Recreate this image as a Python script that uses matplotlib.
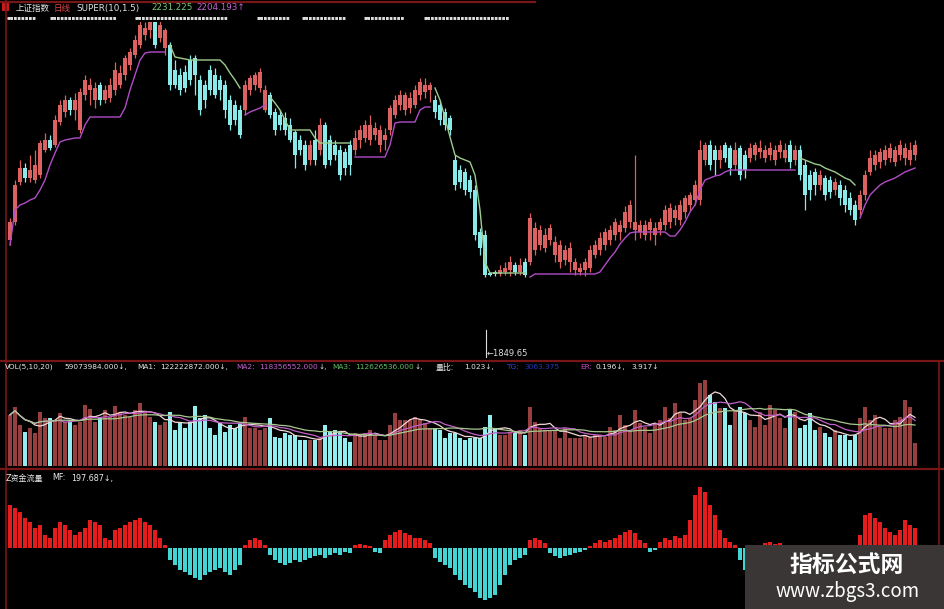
import numpy as np
import pandas as pd
import matplotlib
matplotlib.use('Agg')
import matplotlib.pyplot as plt
from matplotlib.lines import Line2D
from matplotlib.patches import Rectangle
from matplotlib.transforms import blended_transform_factory

plt.rcParams['font.family'] = ['DejaVu Sans', 'Noto Sans CJK SC']

W, H = 945, 609

# daily candles (index points)
opens = [
    2020, 2056, 2136, 2164, 2144, 2140, 2150, 2200, 2220, 2210,
    2256, 2276, 2300, 2280, 2240, 2310, 2320, 2300, 2330, 2300,
    2304, 2320, 2330, 2350, 2370, 2390, 2410, 2430, 2440, 2456,
    2424, 2404, 2410, 2360, 2350, 2356, 2380, 2384, 2340, 2330,
    2360, 2350, 2340, 2330, 2300, 2290, 2280, 2280, 2320, 2330,
    2324, 2280, 2310, 2276, 2270, 2264, 2250, 2236, 2220, 2210,
    2180, 2220, 2200, 2250, 2220, 2210, 2200, 2196, 2210, 2200,
    2220, 2224, 2220, 2230, 2210, 2220, 2240, 2270, 2290, 2280,
    2284, 2290, 2310, 2316, 2320, 2300, 2290, 2276, 2264, 2180,
    2160, 2156, 2140, 2120, 2036, 2030, 1954, 1956, 1952, 1956,
    1960, 1970, 1956, 1976, 1976, 2000, 2010, 2004, 2020, 1990,
    1976, 1980, 1976, 1960, 1956, 1960, 1964, 1990, 2000, 2010,
    2020, 2030, 2036, 2044, 2056, 2040, 2036, 2030, 2040, 2030,
    2040, 2050, 2056, 2064, 2060, 2076, 2090, 2100, 2100, 2180,
    2210, 2200, 2180, 2210, 2204, 2170, 2204, 2190, 2184, 2190,
    2196, 2184, 2190, 2180, 2196, 2184, 2210, 2180, 2200, 2170,
    2150, 2156, 2130, 2144, 2140, 2120, 2130, 2120, 2104, 2090,
    2080, 2110, 2156, 2170, 2176, 2180, 2184, 2176, 2190, 2184,
    2180, 2190,
]
closes = [
    2056, 2130, 2164, 2144, 2160, 2170, 2214, 2220, 2204, 2260,
    2290, 2300, 2280, 2300, 2316, 2340, 2330, 2324, 2300, 2320,
    2330, 2360, 2354, 2384, 2396, 2420, 2450, 2444, 2460, 2410,
    2450, 2440, 2330, 2330, 2320, 2324, 2340, 2350, 2280, 2300,
    2320, 2310, 2320, 2280, 2250, 2260, 2230, 2330, 2344, 2350,
    2356, 2320, 2270, 2240, 2250, 2240, 2220, 2190, 2200, 2170,
    2210, 2180, 2250, 2170, 2180, 2190, 2150, 2164, 2170, 2224,
    2240, 2250, 2250, 2244, 2240, 2230, 2284, 2300, 2310, 2310,
    2304, 2320, 2336, 2330, 2330, 2276, 2260, 2250, 2240, 2130,
    2136, 2120, 2116, 2030, 2004, 1950, 1950, 1952, 1960, 1964,
    1976, 1956, 1970, 1950, 2064, 2044, 2040, 2030, 2044, 2016,
    2010, 2000, 2004, 1976, 1964, 1976, 2000, 2010, 2024, 2036,
    2040, 2056, 2050, 2076, 2090, 2056, 2050, 2050, 2056, 2044,
    2056, 2080, 2084, 2080, 2090, 2104, 2110, 2130, 2200, 2210,
    2170, 2180, 2200, 2184, 2164, 2200, 2150, 2160, 2204, 2210,
    2204, 2200, 2204, 2200, 2210, 2200, 2176, 2200, 2150, 2110,
    2120, 2130, 2150, 2110, 2116, 2136, 2104, 2090, 2080, 2060,
    2110, 2150, 2184, 2190, 2196, 2200, 2204, 2200, 2210, 2204,
    2200, 2210,
]
highs = [
    2064, 2140, 2180, 2174, 2190, 2200, 2220, 2234, 2230, 2270,
    2300, 2310, 2306, 2314, 2324, 2350, 2344, 2336, 2336, 2330,
    2344, 2376, 2370, 2390, 2404, 2430, 2460, 2456, 2464, 2460,
    2460, 2444, 2416, 2380, 2364, 2370, 2390, 2390, 2350, 2340,
    2370, 2364, 2350, 2340, 2310, 2300, 2290, 2340, 2350, 2356,
    2364, 2330, 2316, 2284, 2280, 2276, 2264, 2240, 2230, 2220,
    2220, 2240, 2264, 2256, 2230, 2220, 2210, 2204, 2220, 2240,
    2250, 2260, 2270, 2256, 2250, 2244, 2290, 2310, 2320, 2316,
    2316, 2330, 2344, 2344, 2336, 2310, 2300, 2284, 2270, 2190,
    2170, 2164, 2150, 2130, 2044, 2040, 1956, 1960, 1970, 1976,
    1988, 1976, 1984, 1984, 2074, 2056, 2050, 2044, 2052, 2028,
    2020, 2010, 2016, 1984, 1974, 1984, 2010, 2020, 2036, 2044,
    2050, 2064, 2060, 2088, 2100, 2190, 2060, 2060, 2064, 2056,
    2064, 2090, 2094, 2090, 2100, 2110, 2116, 2140, 2220, 2216,
    2220, 2210, 2210, 2216, 2210, 2216, 2210, 2200, 2214, 2216,
    2220, 2210, 2216, 2210, 2220, 2214, 2220, 2210, 2210, 2180,
    2160, 2164, 2160, 2150, 2148, 2144, 2140, 2130, 2116, 2100,
    2120, 2160, 2200, 2200, 2204, 2210, 2214, 2208, 2220, 2214,
    2216, 2220,
]
lows = [
    2010, 2050, 2130, 2136, 2136, 2134, 2144, 2196, 2200, 2206,
    2250, 2266, 2270, 2260, 2234, 2300, 2290, 2284, 2290, 2294,
    2296, 2310, 2324, 2340, 2360, 2384, 2404, 2420, 2424, 2404,
    2416, 2390, 2320, 2324, 2310, 2316, 2330, 2310, 2270, 2284,
    2310, 2304, 2300, 2264, 2240, 2250, 2224, 2270, 2310, 2320,
    2316, 2276, 2264, 2230, 2240, 2230, 2216, 2164, 2190, 2160,
    2170, 2170, 2190, 2164, 2170, 2180, 2140, 2150, 2150, 2190,
    2204, 2216, 2210, 2220, 2196, 2200, 2230, 2264, 2280, 2270,
    2274, 2284, 2300, 2304, 2296, 2264, 2250, 2240, 2230, 2120,
    2124, 2110, 2104, 2020, 1990, 1946, 1948, 1948, 1948, 1950,
    1948, 1950, 1950, 1946, 1970, 1990, 2000, 1996, 2010, 1976,
    1964, 1970, 1956, 1950, 1950, 1948, 1956, 1984, 1990, 2000,
    2010, 2020, 2020, 2036, 2044, 2020, 2024, 2020, 2020, 2010,
    2030, 2040, 2044, 2050, 2050, 2064, 2080, 2090, 2090, 2170,
    2160, 2150, 2164, 2176, 2150, 2160, 2140, 2144, 2176, 2180,
    2184, 2176, 2180, 2170, 2184, 2176, 2164, 2170, 2140, 2080,
    2100, 2110, 2120, 2100, 2104, 2110, 2090, 2076, 2070, 2050,
    2070, 2100, 2150, 2160, 2164, 2170, 2176, 2168, 2180, 2170,
    2170, 2180,
]

# SUPER(10,1.5) stop line and where each trend leg starts
super_line = [
    2010, 2080, 2090, 2094, 2100, 2104, 2120, 2140, 2170, 2194,
    2216, 2220, 2222, 2224, 2224, 2250, 2266, 2266, 2266, 2266,
    2266, 2266, 2266, 2284, 2320, 2350, 2380, 2394, 2396, 2396,
    2396, 2396, 2410, 2386, 2384, 2382, 2380, 2380, 2380, 2380,
    2380, 2380, 2380, 2370, 2354, 2340, 2324, 2270, 2276, 2280,
    2284, 2290, 2306, 2294, 2280, 2260, 2240, 2240, 2240, 2240,
    2240, 2224, 2214, 2214, 2214, 2214, 2214, 2214, 2214, 2186,
    2186, 2186, 2186, 2186, 2186, 2186, 2210, 2254, 2256, 2256,
    2256, 2256, 2280, 2286, 2286, 2324, 2300, 2264, 2226, 2190,
    2184, 2180, 2176, 2150, 2080, 1976, 1954, 1954, 1954, 1954,
    1954, 1954, 1954, 1954, 1946, 1952, 1952, 1952, 1952, 1952,
    1952, 1952, 1952, 1952, 1952, 1952, 1952, 1952, 1956, 1970,
    1984, 1996, 2012, 2024, 2034, 2036, 2036, 2036, 2036, 2036,
    2036, 2036, 2028, 2028, 2040, 2056, 2076, 2090, 2120, 2140,
    2144, 2148, 2150, 2156, 2160, 2160, 2160, 2160, 2160, 2160,
    2160, 2160, 2160, 2160, 2160, 2160, 2160, 2160, 2184, 2180,
    2176, 2172, 2170, 2164, 2160, 2156, 2150, 2144, 2140, 2130,
    2064, 2090, 2110, 2120, 2130, 2136, 2140, 2144, 2150, 2156,
    2160, 2164,
]
trend_start = [0, 32, 47, 52, 69, 85, 104, 158, 170]
trend_up = [1, 0, 1, 0, 1, 0, 1, 0, 1]

# volume, 1e8 shares
volume = [
    1.28, 1.48, 1.02, 0.85, 0.95, 0.82, 1.35, 1.20, 1.20, 1.15,
    1.32, 1.10, 1.15, 1.02, 1.10, 1.52, 1.42, 1.10, 1.22, 1.40,
    1.22, 1.50, 1.35, 1.28, 1.22, 1.40, 1.58, 1.35, 1.22, 1.10,
    1.02, 1.10, 1.35, 0.90, 1.08, 0.95, 1.10, 1.50, 1.20, 1.28,
    0.95, 0.78, 1.08, 0.85, 1.02, 0.95, 1.08, 1.22, 0.95, 0.95,
    0.90, 0.95, 1.20, 0.72, 0.70, 0.82, 0.78, 0.78, 0.65, 0.65,
    0.65, 0.65, 0.70, 1.02, 0.85, 0.90, 0.85, 0.70, 0.60, 0.82,
    0.78, 0.82, 0.90, 0.78, 0.65, 0.65, 1.02, 1.32, 1.15, 1.15,
    1.15, 1.22, 1.15, 1.08, 0.95, 0.95, 0.90, 0.70, 0.82, 0.82,
    0.70, 0.65, 0.70, 0.70, 0.70, 0.98, 1.28, 0.95, 0.78, 0.78,
    0.85, 0.82, 0.90, 0.78, 1.48, 1.10, 0.95, 0.90, 0.90, 0.90,
    0.70, 0.95, 0.70, 0.70, 0.70, 0.78, 0.72, 0.78, 0.78, 0.72,
    0.98, 0.90, 1.28, 1.02, 0.90, 1.40, 1.08, 0.98, 0.82, 1.08,
    1.15, 1.48, 1.20, 1.58, 1.32, 1.15, 1.20, 1.65, 2.08, 2.15,
    1.78, 1.60, 1.45, 1.45, 1.02, 1.40, 1.48, 1.32, 1.15, 0.98,
    1.35, 1.02, 1.52, 1.40, 1.20, 0.95, 1.40, 1.35, 0.95, 1.02,
    1.32, 0.90, 0.98, 0.82, 0.72, 0.90, 0.78, 0.78, 0.65, 0.78,
    1.20, 1.48, 1.15, 1.28, 0.98, 0.95, 0.95, 1.15, 1.22, 1.65,
    1.48, 0.58,
]

# Z资金流量 MF
money_flow = [
    430, 400, 360, 300, 260, 200, 230, 130, 100, 200,
    260, 230, 180, 130, 160, 200, 280, 260, 230, 100,
    80, 180, 200, 230, 260, 280, 300, 260, 230, 180,
    100, 30, -120, -170, -220, -240, -270, -300, -320, -270,
    -240, -220, -200, -240, -270, -220, -170, 30, 80, 100,
    80, 30, -70, -120, -150, -170, -150, -120, -140, -120,
    -100, -80, -70, -100, -70, -50, -70, -40, -50, 30,
    40, 30, 20, -40, -50, 80, 130, 160, 180, 150,
    130, 100, 100, 80, 50, -100, -140, -170, -200, -270,
    -320, -370, -400, -440, -500, -520, -500, -470, -370, -270,
    -170, -120, -100, -70, 80, 100, 80, 50, -50, -80,
    -100, -80, -70, -50, -40, -20, 20, 50, 80, 60,
    80, 100, 130, 160, 180, 150, 80, 50, -40, -20,
    60, 100, 80, 120, 100, 130, 280, 530, 610, 560,
    430, 330, 180, 100, 60, 30, -120, -220, -150, -80,
    30, 50, 60, 40, 50, 30, -60, -40, -100, -150,
    -160, -180, -150, -170, -200, -180, -200, -220, -240, -250,
    130, 330, 350, 300, 260, 200, 160, 130, 180, 280,
    230, 200,
]

low_label = '1849.65'

UP = '#dc6262'
DN = '#8aeaea'
VUP = '#973e3e'
VDN = '#92eeee'
MFUP = '#e41c1c'
MFDN = '#45d4d4'
PURPLE = '#b24cc6'
GREEN = '#9ccc8e'
FRAME = '#761616'

o = np.array(opens, float)
c = np.array(closes, float)
hi = np.maximum(np.array(highs, float), np.maximum(o, c))
lo = np.minimum(np.array(lows, float), np.minimum(o, c))
n = len(c)
xs = np.arange(n)
up = c >= o

fig = plt.figure(figsize=(W / 100, H / 100), dpi=100, facecolor='black')


def box(x0, y0, x1, y1):
    return [x0 / W, 1 - y1 / H, (x1 - x0) / W, (y1 - y0) / H]


ax = fig.add_axes(box(7, 22, 922, 360))
axv = fig.add_axes(box(7, 362, 922, 467))
axm = fig.add_axes(box(7, 470, 922, 609))
for a in (ax, axv, axm):
    a.set_facecolor('black')
    a.set_axis_off()
    a.set_xlim(-0.6, 182.4)

# price panel
col = np.where(up, UP, DN)
ax.vlines(xs, lo, hi, colors=col, lw=0.9)
ax.bar(xs, np.maximum(np.abs(c - o), 2), bottom=np.minimum(o, c),
       width=0.62, color=col, lw=0)
bounds = trend_start + [n]
sl = np.array(super_line, float)
for k in range(len(trend_start)):
    s, e = bounds[k], bounds[k + 1]
    ax.plot(xs[s:e], sl[s:e], color=PURPLE if trend_up[k] else GREEN, lw=1.0)
ax.set_ylim(1780, 2456)

imin = int(np.argmin(lo))
tr = blended_transform_factory(ax.transData, ax.transAxes)
ax.plot([imin + 0.3, imin + 0.3], [0.09, 0.01], color='#dddddd', lw=0.8, transform=tr)
ax.text(imin + 0.3, 0.018, '\u2190' + low_label, transform=tr, color='#dddddd',
        fontsize=6, va='center', ha='left')

# volume panel
vol = np.array(volume)
axv.bar(xs, vol, width=0.7, color=np.where(up, VUP, VDN), lw=0)
vs = pd.Series(vol)
axv.plot(xs, vs.rolling(5, min_periods=1).mean(), color='#f0d8d8', lw=0.9)
axv.plot(xs, vs.rolling(10, min_periods=1).mean(), color='#c060c8', lw=0.9)
axv.plot(xs, vs.rolling(20, min_periods=1).mean(), color='#a8c890', lw=0.9)
axv.set_ylim(-0.025, 2.6)

# money flow panel
mf = np.array(money_flow, float)
axm.bar(xs, mf, width=0.88, color=np.where(mf > 0, MFUP, MFDN), lw=0)
axm.set_ylim(-610, 780)


# frame lines
def fline(x0, y0, x1, y1, lw=1.5, color=FRAME):
    fig.add_artist(Line2D([x0 / W, x1 / W], [1 - y0 / H, 1 - y1 / H],
                          transform=fig.transFigure, color=color, lw=lw))


fline(0, 1.5, 535, 1.5, lw=1.6)
fline(0, 361, W, 361, lw=1.6)
fline(0, 468.5, W, 468.5, lw=1.6)
fline(6, 0, 6, H, lw=1.2)
fline(939, 361, 939, H, lw=1.2)


# header texts
def label(x, y, s, color, size=6.3, **kw):
    fig.text(x / W, 1 - y / H, s, color=color, fontsize=size,
             va='center', ha='left', **kw)


fig.add_artist(Rectangle((2 / W, 1 - 11 / H), 7 / W, 8 / H,
                         transform=fig.transFigure, facecolor='#c81c1c', edgecolor='none'))
label(16, 8, '上证指数', '#e8e8e8', 6.1)
label(54, 8, '日线', '#e04848', 6.1)
label(76, 8, 'SUPER(10,1.5)', '#e0e0e0')
label(151, 8, '2231.225', '#78c878')
label(196, 8, '2204.193\u2191', '#c464d4')

for x0, x1 in [(7, 44), (50, 128), (135, 245), (257, 298), (302, 357), (364, 412), (424, 527)]:
    label(x0, 18, '\u25aa' * int((x1 - x0) / 4.3), '#dcdcdc', 4)

y = 367
fs = 5.3
label(5, y, 'VOL(5,10,20)', '#e8e8e8', fs)
label(64, y, '59073984.000\u2193,', '#e8e8e8', fs)
label(137, y, 'MA1:', '#e8e8e8', fs)
label(160, y, '122222872.000\u2193,', '#e8e8e8', fs)
label(236, y, 'MA2:', '#c860d0', fs)
label(259, y, '118356552.000', '#c860d0', fs)
label(319, y, '\u2193,', '#e8e8e8', fs)
label(332, y, 'MA3:', '#60c060', fs)
label(355, y, '112626536.000', '#60c060', fs)
label(415, y, '\u2193,', '#e8e8e8', fs)
label(436, y, '量比:', '#e8e8e8', fs + 0.4)
label(464, y, '1.023\u2193,', '#e8e8e8', fs)
label(506, y, 'TG:', '#3048e8', fs)
label(524, y, '3063.375', '#2438b8', fs)
label(580, y, 'ER:', '#c848c0', fs)
label(596, y, '0.196\u2193,', '#e8e8e8', fs)
label(631, y, '3.917\u2193', '#e8e8e8', fs)

label(6, 478, 'Z资金流量', '#e8e8e8', 5.8)
label(52, 478, 'MF:', '#e8e8e8', 5.8)
label(71, 478, '197.687\u2193,', '#e8e8e8', 5.8)

# watermark
fig.add_artist(Rectangle((745 / W, 0), 200 / W, 64 / H, transform=fig.transFigure,
                         facecolor='#3b3636', edgecolor='none', zorder=10))
fig.text(847 / W, 1 - 565 / H, '指标公式网', fontsize=16.5, fontweight='bold',
         color='white', ha='center', va='center', family='Noto Sans CJK SC', zorder=11)
fig.text(848 / W, 1 - 591 / H, 'www.zbgs3.com', fontsize=13.5, color='white',
         ha='center', va='center', family='Noto Sans CJK SC', zorder=11)

fig.savefig('out.png', dpi=100, facecolor='black')
